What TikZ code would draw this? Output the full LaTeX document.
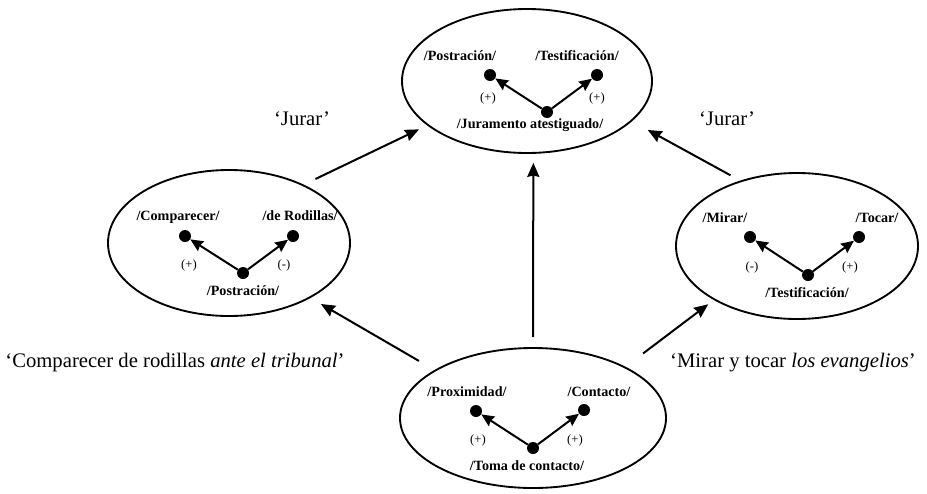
\documentclass[tikz,border=0pt]{standalone}
\usepackage{fontspec}
\setmainfont{Liberation Serif}
\usetikzlibrary{shapes.geometric,arrows.meta}
% one drawing unit = one pixel of the 927x493 canvas
\newdimen\pxu \pxu=0.75pt
\begin{document}
\begin{tikzpicture}[x=0.75pt,y=-0.75pt,
  frame/.style={draw,ellipse,line width=1.4pt,inner sep=0pt},
  dot/.style={circle,fill,inner sep=0pt,minimum size=12\pxu},
  inarrow/.style={line width=1.5pt,-{Stealth[length=9.5pt,width=8.5pt,inset=1pt]}},
  outarrow/.style={line width=1.5pt,-{Stealth[length=10.5pt,width=9pt,inset=1pt]}},
  lab/.style={font=\fontsize{10.6}{12}\selectfont\bfseries,anchor=base,inner sep=0pt},
  sign/.style={font=\fontsize{9.5}{11}\selectfont,inner sep=0pt},
  gloss/.style={font=\fontsize{15.5}{18}\selectfont,anchor=base,inner sep=0pt}]
\useasboundingbox (0,0) rectangle (927,493);

% --- top: /Juramento atestiguado/
\node[frame,minimum width=250\pxu,minimum height=144\pxu] (T) at (527,81) {};
\node[dot] (Tb) at (547,112) {};
\node[dot] (Tl) at (490,75) {};
\node[dot] (Tr) at (597,75) {};
\draw[inarrow] (Tb) -- (Tl);
\draw[inarrow] (Tb) -- (Tr);
\node[lab] (Tlt) at (460,60) {/Postración/};
\node[lab] (Trt) at (577,60) {/Testificación/};
\node[lab] (Tbt) at (530,128) {/Juramento atestiguado/};
\node[sign] (Tls) at (488,98) {(+)};
\node[sign] (Trs) at (597,98) {(+)};

% --- left: /Postración/
\node[frame,minimum width=242\pxu,minimum height=146\pxu] (L) at (229,243) {};
\node[dot] (Lb) at (243,273) {};
\node[dot] (Ll) at (185,236) {};
\node[dot] (Lr) at (293,236) {};
\draw[inarrow] (Lb) -- (Ll);
\draw[inarrow] (Lb) -- (Lr);
\node[lab] (Llt) at (178,220) {/Comparecer/};
\node[lab] (Lrt) at (300,220) {/de Rodillas/};
\node[lab] (Lbt) at (243,295) {/Postración/};
\node[sign] (Lls) at (189,265) {(+)};
\node[sign] (Lrs) at (284,265) {(-)};

% --- right: /Testificación/
\node[frame,minimum width=242\pxu,minimum height=146\pxu] (R) at (797,246) {};
\node[dot] (Rb) at (808,275) {};
\node[dot] (Rl) at (750,237) {};
\node[dot] (Rr) at (859,237) {};
\draw[inarrow] (Rb) -- (Rl);
\draw[inarrow] (Rb) -- (Rr);
\node[lab] (Rlt) at (725,222) {/Mirar/};
\node[lab] (Rrt) at (877,222) {/Tocar/};
\node[lab] (Rbt) at (807,297) {/Testificación/};
\node[sign] (Rls) at (752,267) {(-)};
\node[sign] (Rrs) at (850,267) {(+)};

% --- bottom: /Toma de contacto/
\node[frame,minimum width=266\pxu,minimum height=140\pxu] (B) at (533,418) {};
\node[dot] (Bb) at (533,448) {};
\node[dot] (Bl) at (476,411) {};
\node[dot] (Br) at (584,410) {};
\draw[inarrow] (Bb) -- (Bl);
\draw[inarrow] (Bb) -- (Br);
\node[lab] (Blt) at (467,396) {/Proximidad/};
\node[lab] (Brt) at (599,396) {/Contacto/};
\node[lab] (Bbt) at (527,470) {/Toma de contacto/};
\node[sign] (Bls) at (478,440) {(+)};
\node[sign] (Brs) at (575,440) {(+)};

% --- links between the frames
\draw[outarrow,shorten <=13\pxu,shorten >=9\pxu] (L.38) -- (T.204);
\draw[outarrow,shorten <=11\pxu,shorten >=18\pxu] (R.131) -- (T.339);
\draw[outarrow,shorten <=10\pxu,shorten >=9\pxu] (B.90) -- (T.275);
\draw[outarrow,shorten <=18\pxu,shorten >=12\pxu] (B.154) -- (L.326);
\draw[outarrow,shorten <=22\pxu,shorten >=7\pxu] (B.29) -- (R.213);

% --- glosses
\node[gloss] (jl) at (302,125) {‘Jurar’};
\node[gloss] (jr) at (727,125) {‘Jurar’};
\node[gloss] (gl) at (175,367) {‘Comparecer de rodillas \textit{ante el tribunal}’};
\node[gloss] (gr) at (793,367) {‘Mirar y tocar \textit{los evangelios}’};
\end{tikzpicture}
\end{document}
